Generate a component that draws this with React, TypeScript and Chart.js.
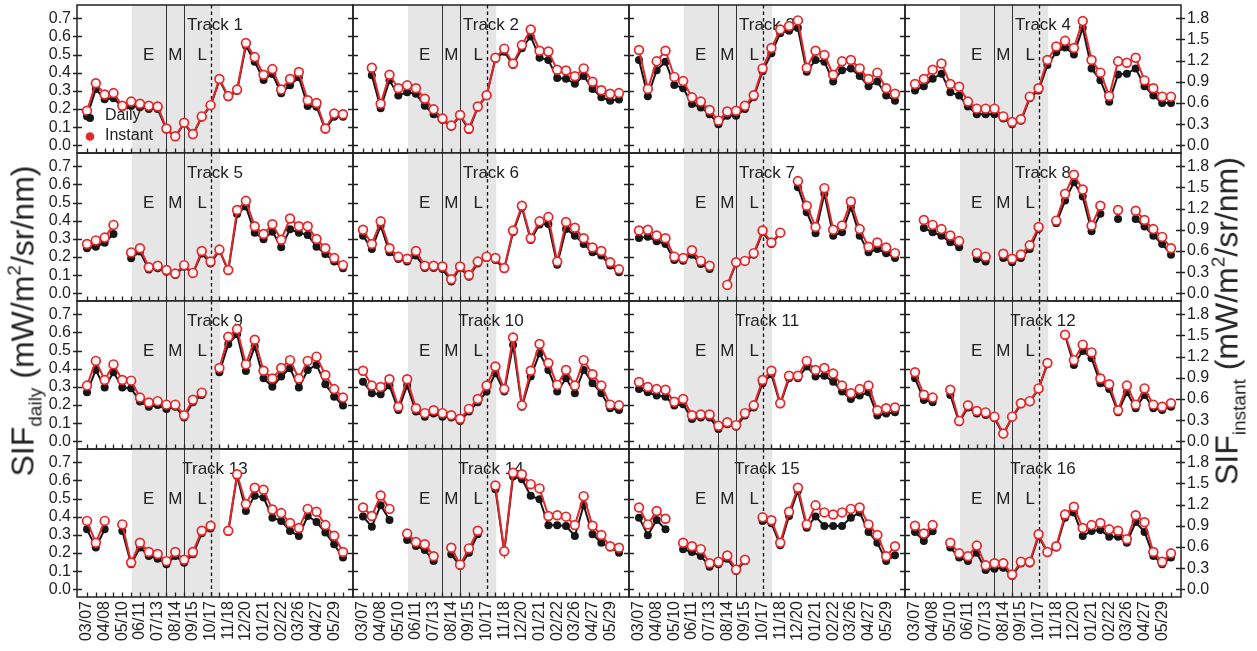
import React, { useEffect, useRef } from 'react';
import { Chart, registerables } from 'chart.js';

Chart.register(...registerables);

const FONT = "'Liberation Sans', Arial, Helvetica, sans-serif";
Chart.defaults.font.family = FONT;
Chart.defaults.color = '#222';

const N = null;

// ---- tick labels ----
const dateLabels = ['03/07', '04/08', '05/10', '06/11', '07/13', '08/14', '09/15', '10/17', '11/18', '12/20', '01/21', '02/22', '03/26', '04/27', '05/29'];
const leftTicks = [0, 0.1, 0.2, 0.3, 0.4, 0.5, 0.6, 0.7];
const rightTicks = [0, 0.3, 0.6, 0.9, 1.2, 1.5, 1.8];
const trackNames = ['Track 1', 'Track 2', 'Track 3', 'Track 4', 'Track 5', 'Track 6', 'Track 7', 'Track 8', 'Track 9', 'Track 10', 'Track 11', 'Track 12', 'Track 13', 'Track 14', 'Track 15', 'Track 16'];
const phaseLabels = ['E', 'M', 'L'];

// ---- series: SIF daily (left axis) and SIF instant (right axis) ----
const daily1 = [0.16, 0.31, 0.254, 0.26, 0.21, 0.217, 0.21, 0.2, 0.2, 0.088, 0.048, 0.12, 0.059, 0.154, 0.217, 0.36, 0.265, 0.3, 0.548, 0.461, 0.36, 0.393, 0.287, 0.331, 0.375, 0.217, 0.213, 0.088, 0.158, 0.158];
const instant1 = [0.49, 0.88, 0.72, 0.74, 0.56, 0.62, 0.59, 0.56, 0.55, 0.24, 0.13, 0.32, 0.16, 0.41, 0.57, 0.94, 0.70, 0.79, 1.45, 1.25, 1.00, 1.08, 0.79, 0.94, 1.04, 0.64, 0.60, 0.24, 0.45, 0.44];

const daily2 = [N, 0.386, 0.205, 0.358, 0.274, 0.293, 0.284, 0.218, 0.172, 0.14, 0.103, 0.163, 0.085, 0.209, 0.274, 0.475, 0.516, 0.442, 0.535, 0.6, 0.483, 0.47, 0.371, 0.367, 0.339, 0.382, 0.311, 0.265, 0.246, 0.252];
const instant2 = [N, 1.10, 0.59, 1.00, 0.81, 0.85, 0.81, 0.66, 0.51, 0.38, 0.28, 0.43, 0.24, 0.55, 0.71, 1.24, 1.37, 1.16, 1.42, 1.64, 1.34, 1.33, 1.07, 1.06, 0.98, 1.09, 0.90, 0.78, 0.73, 0.74];

const daily3 = [0.47, 0.27, 0.414, 0.46, 0.333, 0.315, 0.228, 0.209, 0.172, 0.116, 0.163, 0.163, 0.2, 0.265, 0.408, 0.507, 0.618, 0.631, 0.646, 0.405, 0.47, 0.46, 0.352, 0.414, 0.423, 0.382, 0.326, 0.352, 0.274, 0.246];
const instant3 = [1.35, 0.80, 1.19, 1.34, 0.97, 0.91, 0.68, 0.62, 0.50, 0.35, 0.48, 0.49, 0.56, 0.71, 1.09, 1.38, 1.64, 1.69, 1.77, 1.10, 1.34, 1.28, 1.00, 1.19, 1.21, 1.09, 0.94, 1.03, 0.81, 0.73];

const daily4 = [0.302, 0.326, 0.367, 0.395, 0.293, 0.274, 0.214, 0.172, 0.172, 0.172, 0.148, 0.116, 0.135, 0.259, 0.302, 0.442, 0.513, 0.539, 0.501, 0.646, 0.423, 0.358, 0.24, 0.39, 0.395, 0.423, 0.326, 0.274, 0.233, 0.233];
const instant4 = [0.87, 0.94, 1.07, 1.16, 0.87, 0.83, 0.62, 0.52, 0.52, 0.52, 0.41, 0.33, 0.37, 0.69, 0.81, 1.21, 1.40, 1.48, 1.38, 1.76, 1.21, 1.03, 0.70, 1.19, 1.17, 1.24, 0.92, 0.81, 0.69, 0.69];

const daily5 = [0.248, 0.257, 0.279, 0.327, N, 0.193, 0.23, 0.132, 0.138, 0.119, 0.101, 0.147, 0.11, 0.22, 0.165, 0.235, 0.125, 0.437, 0.478, 0.334, 0.298, 0.34, 0.254, 0.353, 0.334, 0.322, 0.257, 0.217, 0.175, 0.138];
const instant5 = [0.70, 0.75, 0.79, 0.97, N, 0.58, 0.64, 0.37, 0.39, 0.33, 0.28, 0.40, 0.29, 0.60, 0.45, 0.62, 0.33, 1.18, 1.31, 0.95, 0.84, 0.98, 0.76, 1.06, 0.95, 0.95, 0.77, 0.64, 0.50, 0.40];

const daily6 = [0.318, 0.244, 0.373, 0.226, 0.189, 0.176, 0.208, 0.14, 0.14, 0.134, 0.066, 0.14, 0.092, 0.165, 0.195, 0.184, 0.134, 0.336, 0.471, 0.294, 0.379, 0.382, 0.158, 0.355, 0.318, 0.272, 0.226, 0.208, 0.153, 0.116];
const instant6 = [0.90, 0.70, 1.02, 0.64, 0.52, 0.49, 0.60, 0.39, 0.39, 0.38, 0.20, 0.38, 0.26, 0.45, 0.52, 0.50, 0.36, 0.89, 1.24, 0.78, 1.02, 1.08, 0.45, 1.01, 0.93, 0.78, 0.65, 0.60, 0.44, 0.34];

const daily7 = [0.305, 0.312, 0.287, 0.272, 0.184, 0.18, 0.213, 0.162, 0.134, N, 0.042, 0.165, 0.176, 0.213, 0.336, 0.272, 0.331, N, 0.585, 0.447, 0.331, 0.548, 0.318, 0.336, 0.474, 0.318, 0.226, 0.244, 0.221, 0.195];
const instant7 = [0.89, 0.90, 0.82, 0.78, 0.52, 0.50, 0.61, 0.46, 0.39, N, 0.12, 0.44, 0.46, 0.57, 0.89, 0.72, 0.86, N, 1.59, 1.24, 0.94, 1.49, 0.90, 0.96, 1.30, 0.91, 0.66, 0.72, 0.65, 0.57];

const daily8 = [N, 0.36, 0.336, 0.318, 0.281, 0.254, N, 0.189, 0.176, N, 0.195, 0.171, 0.195, 0.244, 0.355, N, 0.386, 0.511, 0.612, 0.533, 0.342, 0.438, N, 0.41, N, 0.41, 0.368, 0.318, 0.272, 0.213];
const instant8 = [N, 1.04, 0.97, 0.91, 0.82, 0.74, N, 0.57, 0.52, N, 0.56, 0.49, 0.55, 0.68, 0.94, N, 1.03, 1.41, 1.68, 1.47, 0.96, 1.24, N, 1.18, N, 1.17, 1.04, 0.91, 0.80, 0.64];

const daily9 = [0.27, 0.393, 0.296, 0.38, 0.296, 0.292, 0.219, 0.191, 0.2, 0.178, 0.191, 0.131, 0.215, 0.256, N, 0.38, 0.535, 0.59, 0.388, 0.522, 0.347, 0.301, 0.357, 0.403, 0.296, 0.393, 0.421, 0.314, 0.246, 0.197];
const instant9 = [0.79, 1.14, 0.87, 1.09, 0.87, 0.86, 0.62, 0.55, 0.57, 0.52, 0.52, 0.37, 0.59, 0.69, N, 1.04, 1.48, 1.59, 1.09, 1.44, 1.00, 0.89, 1.04, 1.15, 0.89, 1.14, 1.20, 0.94, 0.74, 0.62];

const daily10 = [0.329, 0.265, 0.259, 0.307, 0.173, 0.307, 0.164, 0.136, 0.154, 0.136, 0.131, 0.112, 0.164, 0.215, 0.274, 0.375, 0.274, 0.531, 0.191, 0.357, 0.485, 0.393, 0.274, 0.347, 0.265, 0.393, 0.32, 0.265, 0.182, 0.173];
const instant10 = [1.00, 0.79, 0.77, 0.88, 0.49, 0.88, 0.47, 0.40, 0.44, 0.40, 0.37, 0.32, 0.46, 0.60, 0.79, 1.06, 0.74, 1.47, 0.51, 1.00, 1.38, 1.11, 0.80, 1.01, 0.79, 1.15, 0.95, 0.79, 0.52, 0.51];

const daily11 = [0.289, 0.27, 0.252, 0.246, 0.197, 0.204, 0.123, 0.131, 0.131, 0.068, 0.094, 0.081, 0.142, 0.186, 0.32, 0.369, 0.204, 0.347, 0.347, 0.412, 0.357, 0.362, 0.329, 0.274, 0.233, 0.252, 0.27, 0.142, 0.154, 0.16];
const instant11 = [0.84, 0.77, 0.74, 0.73, 0.56, 0.60, 0.37, 0.38, 0.38, 0.22, 0.27, 0.23, 0.40, 0.51, 0.87, 1.00, 0.54, 0.93, 0.93, 1.14, 1.01, 1.04, 0.96, 0.79, 0.68, 0.74, 0.79, 0.44, 0.47, 0.48];

const daily12 = [0.347, 0.228, 0.215, N, 0.256, 0.105, 0.186, 0.154, 0.145, 0.127, 0.039, 0.131, 0.204, 0.215, 0.289, 0.425, N, 0.583, 0.421, 0.498, 0.458, 0.32, 0.289, 0.16, 0.27, 0.182, 0.256, 0.182, 0.173, 0.191];
const instant12 = [0.98, 0.66, 0.62, N, 0.73, 0.29, 0.51, 0.43, 0.41, 0.35, 0.11, 0.35, 0.54, 0.57, 0.75, 1.11, N, 1.51, 1.15, 1.37, 1.26, 0.89, 0.81, 0.44, 0.79, 0.52, 0.75, 0.52, 0.49, 0.54];

const daily13 = [0.331, 0.23, 0.331, N, 0.322, 0.138, 0.23, 0.184, 0.169, 0.138, 0.184, 0.147, 0.193, 0.309, 0.335, N, 0.316, 0.625, 0.432, 0.515, 0.506, 0.395, 0.377, 0.322, 0.294, 0.404, 0.371, 0.313, 0.248, 0.175];
const instant13 = [0.97, 0.66, 0.97, N, 0.92, 0.38, 0.66, 0.53, 0.50, 0.40, 0.53, 0.42, 0.53, 0.83, 0.90, N, 0.83, 1.63, 1.21, 1.44, 1.41, 1.13, 1.08, 0.94, 0.87, 1.14, 1.10, 0.91, 0.76, 0.53];

const daily14 = [0.401, 0.345, 0.463, 0.382, N, 0.272, 0.239, 0.217, 0.156, N, 0.193, 0.129, 0.202, 0.303, N, 0.551, 0.206, 0.621, 0.607, 0.515, 0.496, 0.353, 0.353, 0.349, 0.294, 0.463, 0.303, 0.257, 0.23, 0.202];
const instant14 = [1.16, 1.04, 1.33, 1.14, N, 0.79, 0.67, 0.64, 0.47, N, 0.59, 0.35, 0.58, 0.83, N, 1.47, 0.54, 1.65, 1.63, 1.49, 1.43, 1.04, 1.05, 1.03, 0.91, 1.32, 0.90, 0.77, 0.61, 0.59];

const daily15 = [0.395, 0.298, 0.382, 0.331, N, 0.221, 0.206, 0.184, 0.125, 0.138, 0.169, 0.101, 0.156, N, 0.377, 0.364, 0.243, 0.404, 0.542, 0.34, 0.401, 0.349, 0.349, 0.349, 0.395, 0.423, 0.316, 0.257, 0.156, 0.188];
const instant15 = [1.16, 0.92, 1.11, 1.00, N, 0.66, 0.61, 0.57, 0.37, 0.39, 0.48, 0.28, 0.42, N, 1.02, 0.98, 0.66, 1.10, 1.44, 0.92, 1.19, 1.09, 1.06, 1.09, 1.14, 1.16, 0.92, 0.77, 0.47, 0.61];

const daily16 = [0.316, 0.267, 0.32, N, 0.23, 0.175, 0.156, 0.202, 0.107, 0.114, 0.119, 0.074, 0.143, 0.143, 0.294, 0.202, 0.23, 0.395, 0.423, 0.294, 0.322, 0.327, 0.29, 0.29, 0.257, 0.371, 0.316, 0.184, 0.138, 0.175];
const instant16 = [0.90, 0.79, 0.91, N, 0.66, 0.51, 0.47, 0.62, 0.34, 0.37, 0.37, 0.21, 0.39, 0.39, 0.78, 0.53, 0.61, 1.06, 1.17, 0.87, 0.91, 0.94, 0.85, 0.83, 0.71, 1.05, 0.95, 0.53, 0.39, 0.51];

const dailySeries = [daily1, daily2, daily3, daily4, daily5, daily6, daily7, daily8, daily9, daily10, daily11, daily12, daily13, daily14, daily15, daily16];
const instantSeries = [instant1, instant2, instant3, instant4, instant5, instant6, instant7, instant8, instant9, instant10, instant11, instant12, instant13, instant14, instant15, instant16];

// ---- layout & style constants ----
const PANEL_LEFT = [77, 353, 629, 905];
const PANEL_TOP = [5, 153, 301, 449];
const PW = 276;
const PH = 148;
const X_MIN = -1.133;
const X_MAX = 30.133;
const Y_MIN = -0.042;
const Y_MAX = 0.773;
const Y1_MIN = -0.108;
const Y1_MAX = 1.988;
const SHADE = [5.1, 15.1];
const SOLID_AT = [9, 11];
const DASH_AT = 14;
const PHASE_X = [7.0, 10.0, 13.05];
const RED = '#e3282c';
const BLACK = '#161616';
const INK = '#222';

function decoPlugin(idx: number) {
  const c = idx % 4;
  return {
    id: 'deco' + idx,
    beforeDatasetsDraw(chart: any) {
      const { ctx, chartArea } = chart;
      const { left, right, top, bottom } = chartArea;
      const xs = chart.scales.x;
      ctx.save();
      const x1 = xs.getPixelForValue(SHADE[0]);
      const x2 = xs.getPixelForValue(SHADE[1]);
      ctx.fillStyle = '#e6e6e6';
      ctx.fillRect(x1, top, x2 - x1, bottom - top);
      ctx.strokeStyle = '#333';
      ctx.lineWidth = 1;
      for (const v of SOLID_AT) {
        const x = Math.round(xs.getPixelForValue(v)) + 0.5;
        ctx.beginPath();
        ctx.moveTo(x, top);
        ctx.lineTo(x, bottom);
        ctx.stroke();
      }
      ctx.setLineDash([3.5, 3]);
      ctx.strokeStyle = '#111';
      ctx.lineWidth = 1.3;
      const xd = Math.round(xs.getPixelForValue(DASH_AT)) + 0.5;
      ctx.beginPath();
      ctx.moveTo(xd, top);
      ctx.lineTo(xd, bottom);
      ctx.stroke();
      ctx.setLineDash([]);
      ctx.fillStyle = INK;
      ctx.font = `17px ${FONT}`;
      ctx.textAlign = 'center';
      ctx.textBaseline = 'middle';
      ctx.fillText(trackNames[idx], (left + right) / 2, top + 20);
      phaseLabels.forEach((t, k) => {
        ctx.fillText(t, xs.getPixelForValue(PHASE_X[k]), top + 50);
      });
      ctx.restore();
    },
    afterDatasetsDraw(chart: any) {
      const { ctx, chartArea } = chart;
      const { left, right, top, bottom } = chartArea;
      const xs = chart.scales.x;
      const ys = chart.scales.y;
      const ys1 = chart.scales.y1;
      ctx.save();
      ctx.strokeStyle = INK;
      ctx.lineWidth = 1.5;
      ctx.strokeRect(left, top, right - left, bottom - top);
      ctx.lineWidth = 1.3;
      ctx.beginPath();
      for (let i = 0; i < 30; i++) {
        const x = Math.round(xs.getPixelForValue(i)) + 0.5;
        ctx.moveTo(x, bottom);
        ctx.lineTo(x, bottom - 4.5);
      }
      for (const v of leftTicks) {
        const y = Math.round(ys.getPixelForValue(v)) + 0.5;
        ctx.moveTo(left - (c === 0 ? 4 : 0), y);
        ctx.lineTo(left + 5, y);
        if (c !== 3) {
          ctx.moveTo(right - 5, y);
          ctx.lineTo(right, y);
        }
      }
      if (c === 3) {
        for (const v of rightTicks) {
          const y = Math.round(ys1.getPixelForValue(v)) + 0.5;
          ctx.moveTo(right - 5, y);
          ctx.lineTo(right + 4, y);
        }
      }
      ctx.stroke();
      if (idx === 0) {
        ctx.fillStyle = BLACK;
        ctx.beginPath();
        ctx.arc(left + 13, top + 113, 4, 0, Math.PI * 2);
        ctx.fill();
        ctx.fillStyle = RED;
        ctx.beginPath();
        ctx.arc(left + 13, top + 131.5, 4.3, 0, Math.PI * 2);
        ctx.fill();
        ctx.fillStyle = INK;
        ctx.font = `16px ${FONT}`;
        ctx.textAlign = 'left';
        ctx.textBaseline = 'middle';
        ctx.fillText('Daily', left + 28, top + 111);
        ctx.fillText('Instant', left + 28, top + 131);
      }
      ctx.restore();
    },
  };
}

function Panel({ idx }: { idx: number }) {
  const ref = useRef<HTMLCanvasElement | null>(null);
  const r = Math.floor(idx / 4);
  const c = idx % 4;
  const showY = c === 0;
  const showY1 = c === 3;
  const showX = r === 3;
  const ml = showY ? 77 : 20;
  const mr = showY1 ? 76 : 20;
  const mt = 20;
  const mb = showX ? 54 : 20;
  const w = PW + ml + mr;
  const h = PH + mt + mb;

  useEffect(() => {
    if (!ref.current) return;
    const idxs = Array.from({ length: 30 }, (_, i) => i);
    const chart = new Chart(ref.current, {
      type: 'line',
      data: {
        datasets: [
          {
            label: 'Instant',
            data: instantSeries[idx].map((v, i) => ({ x: i, y: v })) as any,
            yAxisID: 'y1',
            borderColor: RED,
            borderWidth: 2,
            pointRadius: 4.4,
            pointBorderWidth: 1.7,
            pointBorderColor: RED,
            pointBackgroundColor: '#fff4f4',
            spanGaps: false,
            order: 0,
          },
          {
            label: 'Daily',
            data: dailySeries[idx].map((v, i) => ({ x: i, y: v })) as any,
            yAxisID: 'y',
            borderColor: BLACK,
            borderWidth: 2,
            pointRadius: 4,
            pointBorderWidth: 0,
            pointBackgroundColor: BLACK,
            spanGaps: false,
            order: 1,
          },
        ],
      },
      options: {
        responsive: false,
        animation: false,
        events: [],
        layout: {
          padding: {
            left: showY ? 0 : ml,
            right: showY1 ? 0 : mr,
            top: mt,
            bottom: showX ? 0 : mb,
          },
        },
        plugins: { legend: { display: false }, tooltip: { enabled: false } },
        scales: {
          x: {
            type: 'linear',
            position: 'bottom',
            min: X_MIN,
            max: X_MAX,
            bounds: 'data',
            display: showX,
            grid: { display: false, drawTicks: false },
            border: { display: false },
            afterBuildTicks: (ax: any) => {
              ax.ticks = idxs.map((v) => ({ value: v }));
            },
            afterFit: (s: any) => {
              if (showX) s.height = mb;
            },
            ticks: {
              autoSkip: false,
              minRotation: 90,
              maxRotation: 90,
              padding: 4,
              color: INK,
              font: { size: 16, family: FONT },
              callback: (v: any) => (Number(v) % 2 === 0 ? dateLabels[Number(v) / 2] : ''),
            },
          },
          y: {
            type: 'linear',
            position: 'left',
            min: Y_MIN,
            max: Y_MAX,
            bounds: 'data',
            display: showY,
            grid: { display: false, drawTicks: false },
            border: { display: false },
            afterBuildTicks: (ax: any) => {
              ax.ticks = leftTicks.map((v) => ({ value: v }));
            },
            afterFit: (s: any) => {
              if (showY) s.width = ml;
            },
            ticks: {
              autoSkip: false,
              padding: 6,
              color: INK,
              font: { size: 16, family: FONT },
              callback: (v: any) => Number(v).toFixed(1),
            },
          },
          y1: {
            type: 'linear',
            position: 'right',
            min: Y1_MIN,
            max: Y1_MAX,
            bounds: 'data',
            display: showY1,
            grid: { display: false, drawTicks: false },
            border: { display: false },
            afterBuildTicks: (ax: any) => {
              ax.ticks = rightTicks.map((v) => ({ value: v }));
            },
            afterFit: (s: any) => {
              if (showY1) s.width = mr;
            },
            ticks: {
              autoSkip: false,
              padding: 6,
              color: INK,
              font: { size: 16, family: FONT },
              callback: (v: any) => Number(v).toFixed(1),
            },
          },
        },
      } as any,
      plugins: [decoPlugin(idx)],
    });
    return () => chart.destroy();
  }, []);

  return (
    <canvas
      ref={ref}
      width={w}
      height={h}
      style={{
        position: 'absolute',
        left: PANEL_LEFT[c] - ml,
        top: PANEL_TOP[r] - mt,
        width: w,
        height: h,
      }}
    />
  );
}

const titleStyle: React.CSSProperties = {
  position: 'absolute',
  transform: 'translate(-50%, -50%) rotate(-90deg)',
  whiteSpace: 'nowrap',
  fontFamily: FONT,
  fontSize: 32,
  lineHeight: '32px',
  color: INK,
};
const subStyle: React.CSSProperties = { fontSize: 19, position: 'relative', top: 8 };
const supStyle: React.CSSProperties = { fontSize: 19, position: 'relative', top: -13 };

export default function App() {
  return (
    <div
      style={{
        position: 'absolute',
        left: 0,
        top: 0,
        width: 1257,
        height: 651,
        background: '#ffffff',
        overflow: 'hidden',
      }}
    >
      {Array.from({ length: 16 }, (_, i) => (
        <Panel key={i} idx={i} />
      ))}
      <div style={{ ...titleStyle, left: 25, top: 321 }}>
        SIF<span style={subStyle}>daily</span> (mW/m<span style={supStyle}>2</span>/sr/nm)
      </div>
      <div style={{ ...titleStyle, left: 1229, top: 321 }}>
        SIF<span style={subStyle}>instant</span> (mW/m<span style={supStyle}>2</span>/sr/nm)
      </div>
    </div>
  );
}
